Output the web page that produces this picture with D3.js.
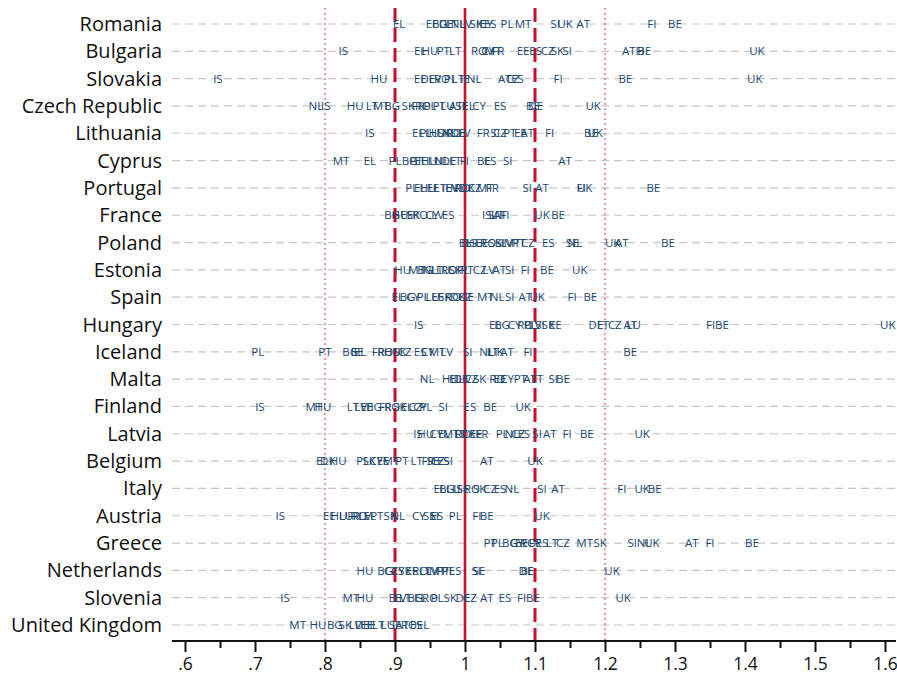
<!DOCTYPE html>
<html>
<head>
<meta charset="utf-8">
<script src="https://cdn.jsdelivr.net/npm/d3@7"></script>
<style>
  html, body { margin: 0; padding: 0; background: #fff; }
  svg { display: block; }
</style>
</head>
<body>
<svg id="chart" width="897" height="680"></svg>
<script>
// Relative price level of each country (row) against its partners (labels)
const countries = ["Romania", "Bulgaria", "Slovakia", "Czech Republic", "Lithuania", "Cyprus",
  "Portugal", "France", "Poland", "Estonia", "Spain", "Hungary", "Iceland", "Malta", "Finland",
  "Latvia", "Belgium", "Italy", "Austria", "Greece", "Netherlands", "Slovenia", "United Kingdom"];

const romania = [["EL",.906],["EE",.953],["BG",.964],["DE",.973],["LT",.981],["NL",.99],["LV",1.001],["SK",1.016],["IE",1.023],["CY",1.03],["ES",1.036],["PL",1.06],["MT",1.083],["SI",1.129],["UK",1.143],["AT",1.169],["FI",1.267],["BE",1.3]];
const bulgaria = [["IS",.826],["EL",.936],["HU",.95],["PT",.969],["LT",.986],["RO",1.02],["CY",1.033],["MT",1.04],["FR",1.047],["EE",1.083],["ES",1.101],["CZ",1.118],["SK",1.132],["SI",1.146],["AT",1.234],["FI",1.25],["BE",1.256],["UK",1.417]];
const slovakia = [["IS",.647],["HU",.877],["EE",.936],["DE",.947],["LV",.957],["RO",.967],["PL",.979],["LT",.99],["IE",1.0],["NL",1.013],["AT",1.057],["CZ",1.068],["ES",1.075],["FI",1.133],["BE",1.229],["UK",1.414]];
const czechRepublic = [["NL",.787],["IS",.801],["HU",.843],["LT",.867],["MT",.88],["BG",.896],["SK",.919],["FR",.933],["RO",.94],["PL",.95],["PT",.963],["LU",.975],["AT",.987],["SE",.995],["EL",1.005],["CY",1.02],["ES",1.05],["BE",1.097],["DE",1.101],["UK",1.183]];
const lithuania = [["IS",.864],["EL",.933],["PL",.944],["LU",.953],["HU",.96],["SK",.97],["NL",.977],["RO",.984],["DE",.99],["LV",.999],["FR",1.026],["SI",1.043],["CZ",1.05],["PT",1.064],["EE",1.079],["AT",1.089],["FI",1.121],["BE",1.18],["UK",1.186]];
const cyprus = [["MT",.823],["EL",.864],["PL",.9],["BG",.921],["PT",.93],["EE",.937],["HU",.949],["LU",.957],["NL",.967],["DE",.977],["LT",.986],["FI",.999],["BE",1.027],["ES",1.036],["SI",1.061],["AT",1.143]];
const portugal = [["PL",.924],["EL",.936],["HU",.947],["EE",.954],["LT",.964],["IE",.974],["LV",.981],["NL",.989],["RO",.996],["DK",1.003],["CZ",1.014],["MT",1.029],["FR",1.039],["SI",1.089],["AT",1.11],["FI",1.166],["UK",1.171],["BE",1.269]];
const france = [["BG",.896],["HU",.907],["EE",.917],["SK",.926],["RO",.936],["CY",.953],["LV",.961],["ES",.976],["IS",1.031],["SI",1.04],["LT",1.046],["AT",1.05],["FI",1.057],["UK",1.11],["BE",1.133]];
const poland = [["EL",1.0],["BG",1.006],["HU",1.014],["EE",1.024],["RO",1.033],["SK",1.043],["SI",1.05],["LV",1.06],["MT",1.067],["PT",1.077],["CZ",1.09],["ES",1.119],["SE",1.153],["NL",1.157],["UK",1.211],["AT",1.224],["BE",1.29]];
const estonia = [["HU",.911],["MT",.931],["BG",.943],["NL",.95],["LT",.96],["LU",.969],["RO",.977],["SK",.986],["PL",.997],["PT",1.003],["CZ",1.021],["LV",1.034],["AT",1.049],["SI",1.064],["FI",1.086],["BE",1.117],["UK",1.164]];
const spain = [["EL",.904],["BG",.918],["CY",.926],["PL",.94],["LU",.954],["EE",.961],["SK",.971],["RO",.983],["DK",.99],["CZ",1.0],["IE",1.006],["MT",1.029],["NL",1.046],["SI",1.064],["AT",1.086],["UK",1.103],["FI",1.153],["BE",1.179]];
const hungary = [["IS",.934],["EL",1.043],["BG",1.053],["CY",1.071],["RO",1.086],["PL",1.093],["LV",1.1],["SI",1.107],["SK",1.119],["EE",1.129],["DE",1.187],["LT",1.197],["CZ",1.214],["AT",1.236],["LU",1.241],["FI",1.351],["BE",1.367],["UK",1.604]];
const iceland = [["PL",.704],["PT",.8],["BG",.836],["EE",.846],["EL",.85],["FR",.876],["RO",.886],["HU",.896],["SK",.907],["CZ",.914],["ES",.936],["CY",.947],["MT",.96],["LV",.974],["SI",1.004],["NL",1.031],["LT",1.04],["UK",1.044],["AT",1.06],["FI",1.09],["BE",1.236]];
const malta = [["NL",.946],["HU",.979],["EL",.986],["DE",.994],["LV",1.0],["CZ",1.009],["SK",1.021],["RO",1.046],["EE",1.05],["CY",1.06],["PT",1.079],["AT",1.093],["LT",1.103],["SI",1.126],["BE",1.14]];
const finland = [["IS",.707],["MT",.784],["HU",.797],["LT",.84],["LV",.851],["EE",.86],["BG",.87],["FR",.886],["RO",.896],["SK",.907],["EL",.917],["CZ",.929],["CY",.936],["PL",.944],["SI",.969],["ES",1.007],["BE",1.036],["UK",1.083]];
const latvia = [["IS",.933],["HU",.944],["CY",.959],["EL",.97],["MT",.98],["LT",.993],["RO",.997],["DK",1.004],["EE",1.016],["FR",1.024],["PL",1.053],["NL",1.067],["CZ",1.076],["ES",1.084],["SI",1.103],["AT",1.121],["FI",1.146],["BE",1.174],["UK",1.253]];
const belgium = [["EL",.796],["DK",.804],["HU",.819],["PL",.854],["SK",.863],["CY",.873],["EE",.883],["MT",.894],["PT",.91],["LT",.931],["FR",.947],["SE",.954],["CZ",.961],["ES",.969],["SI",.976],["AT",1.031],["UK",1.1]];
const italy = [["EL",.964],["BG",.974],["LU",.983],["IS",.99],["SE",.997],["RO",1.01],["SK",1.021],["CZ",1.036],["ES",1.05],["NL",1.067],["SI",1.11],["AT",1.133],["FI",1.224],["UK",1.253],["BE",1.271]];
const austria = [["IS",.736],["EE",.806],["HU",.82],["LU",.83],["FR",.841],["RO",.849],["LV",.857],["EL",.864],["PT",.874],["SK",.893],["NL",.904],["CY",.934],["SE",.949],["SI",.956],["ES",.96],["PL",.986],["FI",1.017],["BE",1.031],["UK",1.11]];
const greece = [["PT",1.036],["PL",1.046],["BG",1.064],["CY",1.074],["EE",1.081],["RO",1.09],["FR",1.1],["ES",1.11],["LT",1.124],["CZ",1.14],["MT",1.171],["SK",1.193],["SI",1.239],["NL",1.256],["UK",1.267],["AT",1.324],["FI",1.35],["BE",1.41]];
const netherlands = [["HU",.857],["BG",.886],["CZ",.894],["CY",.904],["SK",.914],["EE",.924],["RO",.936],["LT",.943],["LV",.953],["MT",.96],["PT",.969],["PL",.976],["ES",.986],["SI",1.016],["SE",1.02],["DE",1.087],["BE",1.089],["UK",1.21]];
const slovenia = [["IS",.743],["MT",.837],["HU",.857],["EE",.9],["LV",.907],["LT",.914],["BG",.929],["EL",.936],["RO",.95],["PL",.96],["SK",.979],["DE",.997],["CZ",1.007],["AT",1.031],["ES",1.057],["FI",1.081],["BE",1.097],["UK",1.226]];
const unitedKingdom = [["MT",.761],["HU",.79],["BG",.814],["SK",.829],["LV",.843],["DE",.853],["EE",.86],["IE",.866],["LT",.876],["LU",.89],["SE",.9],["AT",.91],["RO",.92],["ES",.93],["EL",.94]];

const rows = [romania, bulgaria, slovakia, czechRepublic, lithuania, cyprus, portugal, france,
  poland, estonia, spain, hungary, iceland, malta, finland, latvia, belgium, italy, austria,
  greece, netherlands, slovenia, unitedKingdom];

const majorTicks = [0.6, 0.7, 0.8, 0.9, 1.0, 1.1, 1.2, 1.3, 1.4, 1.5, 1.6];
const minorTicks = [0.65, 0.75, 0.85, 0.95, 1.05, 1.15, 1.25, 1.35, 1.45, 1.55];

const svg = d3.select("#chart");
const x = d3.scaleLinear().domain([0.6, 1.6]).range([185, 885]);
const y = d3.scalePoint().domain(countries).range([24, 625]);
const axisY = 641, plotLeft = 172, plotRight = 896, plotTop = 8;

const navy = "#1a476f", red = "#c8102e", pink = "#e0557a";

// dashed row guides
svg.append("g").selectAll("line").data(countries).join("line")
  .attr("x1", plotLeft).attr("x2", plotRight)
  .attr("y1", d => y(d)).attr("y2", d => y(d))
  .attr("stroke", "#c6c6c6").attr("stroke-width", 1.2)
  .attr("stroke-dasharray", "8,5");

// country names
svg.append("g").selectAll("text").data(countries).join("text")
  .attr("x", 162).attr("y", d => y(d)).attr("dy", "0.35em")
  .attr("text-anchor", "end")
  .attr("font-family", "'Open Sans', sans-serif").attr("font-size", 20)
  .attr("fill", "#111").text(d => d);

// reference lines
const refs = [
  { v: 0.8, stroke: pink, w: 1.2, dash: "2,3" },
  { v: 1.2, stroke: pink, w: 1.2, dash: "2,3" },
  { v: 0.9, stroke: red, w: 3, dash: "14,6" },
  { v: 1.1, stroke: red, w: 3, dash: "14,6" },
  { v: 1.0, stroke: red, w: 2.6, dash: null }
];
svg.append("g").selectAll("line").data(refs).join("line")
  .attr("x1", d => x(d.v)).attr("x2", d => x(d.v))
  .attr("y1", plotTop).attr("y2", axisY)
  .attr("stroke", d => d.stroke).attr("stroke-width", d => d.w)
  .attr("stroke-dasharray", d => d.dash);

// partner labels
const labelG = svg.append("g");
rows.forEach((row, i) => {
  labelG.append("g").selectAll("text").data(row).join("text")
    .attr("x", d => x(d[1])).attr("y", y(countries[i])).attr("dy", "0.36em")
    .attr("text-anchor", "middle")
    .attr("font-family", "'Open Sans', sans-serif").attr("font-size", 11.5)
    .attr("fill", navy).text(d => d[0]);
});

// x axis
const fmt = d => d < 1 ? d3.format(".1f")(d).replace(/^0/, "") : d3.format("~g")(d);
svg.append("line").attr("x1", plotLeft).attr("x2", plotRight)
  .attr("y1", axisY).attr("y2", axisY).attr("stroke", "#111").attr("stroke-width", 2);

const major = svg.append("g").attr("transform", `translate(0,${axisY})`)
  .call(d3.axisBottom(x).tickValues(majorTicks).tickSize(11).tickPadding(6).tickFormat(fmt));
major.select(".domain").remove();
major.selectAll(".tick line").attr("stroke", "#111").attr("stroke-width", 2);
major.selectAll(".tick text").attr("font-family", "'Open Sans', sans-serif")
  .attr("font-size", 17.5).attr("fill", "#111");

const minor = svg.append("g").attr("transform", `translate(0,${axisY})`)
  .call(d3.axisBottom(x).tickValues(minorTicks).tickSize(7).tickFormat(""));
minor.select(".domain").remove();
minor.selectAll(".tick line").attr("stroke", "#111").attr("stroke-width", 2);
</script>
</body>
</html>
